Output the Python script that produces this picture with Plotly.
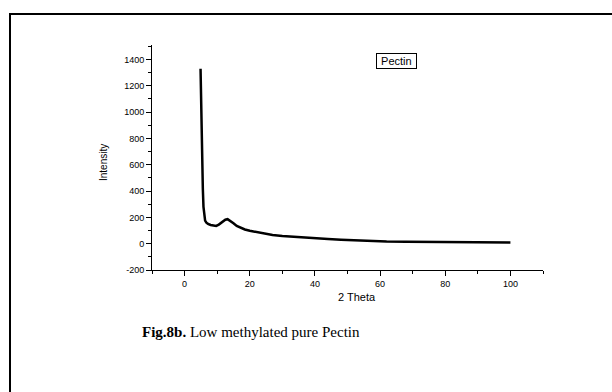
import plotly.graph_objects as go

# Data (2 Theta vs Intensity)
two_theta = [4.9, 5.0, 5.2, 5.4, 5.6, 5.8, 6.0, 6.3, 6.7, 7.2, 8.0, 9.0, 9.7, 10.5, 11.5, 12.5, 13.2,
             14.0, 15.0, 16.0, 17.0, 18.5, 20.0, 22.0, 24.0, 27.0, 30.0, 33.0, 37.0, 40.0, 44.0, 48.0,
             52.0, 56.0, 62.0, 68.0, 75.0, 82.0, 90.0, 100.0]
intensity = [1330, 1150, 900, 650, 420, 280, 210, 175, 160, 150, 142, 136, 135, 145, 165, 182, 186,
             175, 155, 135, 122, 108, 98, 88, 78, 66, 58, 52, 46, 41, 35, 30,
             25, 21, 16, 14, 12, 11, 10, 9]

x_ticks = [0, 20, 40, 60, 80, 100]
y_ticks = [-200, 0, 200, 400, 600, 800, 1000, 1200, 1400]
y_tick_labels = [str(v) for v in y_ticks]

W, H = 612, 392
L, T, R, B = 152, 45, 69, 122
pw, ph = W - L - R, H - T - B

def px(x):
    return (x - L) / pw

def py(y):
    return (H - B - y) / ph

fig = go.Figure()
fig.add_trace(go.Scatter(x=two_theta, y=intensity, mode="lines",
                         line=dict(color="black", width=2.5), name="Pectin",
                         showlegend=False))

tickfont = dict(family="Liberation Sans, Arial", size=9, color="black")
fig.update_xaxes(range=[-10, 110], tickvals=x_ticks, ticks="outside", ticklen=5,
                 tickwidth=1, tickcolor="black", showline=True, linecolor="black",
                 linewidth=1, showgrid=False, zeroline=False, tickfont=tickfont,
                 minor=dict(dtick=10, ticks="outside", ticklen=3, tickcolor="black", showgrid=False))
fig.update_yaxes(range=[-200, 1510], tickvals=y_ticks, ticktext=y_tick_labels, ticks="outside", ticklen=5,
                 tickwidth=1, tickcolor="black", showline=True, linecolor="black",
                 linewidth=1, showgrid=False, zeroline=False, tickfont=tickfont,
                 minor=dict(dtick=100, tick0=0, ticks="outside", ticklen=3, tickcolor="black", showgrid=False))

common = dict(xref="paper", yref="paper", showarrow=False, xanchor="center", yanchor="middle")
ann = [
    dict(text="2 Theta", x=px(357), y=py(297),
         font=dict(family="Liberation Sans, Arial", size=11, color="black"), **common),
    dict(text="Intensity", x=px(103), y=py(163), textangle=-90,
         font=dict(family="Liberation Sans Narrow, Arial Narrow, Liberation Sans", size=10, color="black"), **common),
    dict(text="&nbsp;Pectin&nbsp;", x=px(396.5), y=py(60.5),
         bordercolor="black", borderwidth=1, borderpad=1,
         font=dict(family="Liberation Sans, Arial", size=11, color="black"), **common),
    dict(text="<b>Fig.8b.</b> Low methylated pure Pectin", x=px(251), y=py(332),
         font=dict(family="Liberation Serif, Times New Roman", size=15, color="black"), **common),
]

shapes = [
    dict(type="line", xref="paper", yref="paper", x0=px(10), x1=px(10), y0=py(13.5), y1=py(400),
         line=dict(color="black", width=2)),
    dict(type="line", xref="paper", yref="paper", x0=px(9), x1=px(620), y0=py(14), y1=py(14),
         line=dict(color="black", width=2)),
]

fig.update_layout(width=W, height=H, margin=dict(l=L, r=R, t=T, b=B),
                  paper_bgcolor="white", plot_bgcolor="white",
                  annotations=ann, shapes=shapes, showlegend=False)

fig.write_html("out.html", config={"displayModeBar": False},
               post_script="document.body.style.margin='0';document.body.style.overflow='hidden';")
